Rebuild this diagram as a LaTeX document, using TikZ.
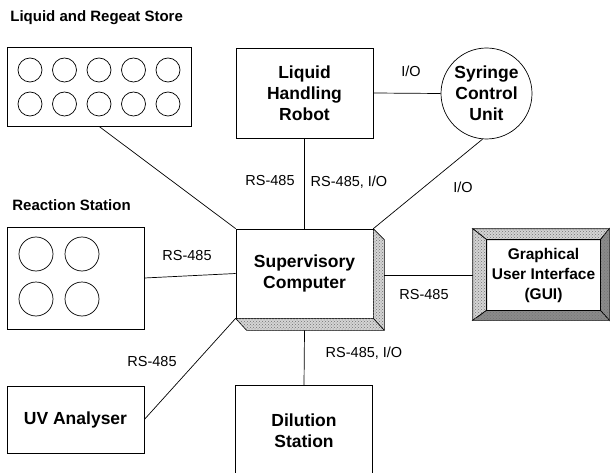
\documentclass[tikz,border=0pt]{standalone}
\usepackage{fontspec}
\setmainfont{Liberation Sans}
\usetikzlibrary{calc,patterns}
\definecolor{bevellight}{HTML}{d4d4d4}
\definecolor{beveldark}{HTML}{8a8a8a}

\begin{document}
\begin{tikzpicture}[x=1pt, y=-1pt, line width=0.7pt,
    unitbox/.style={draw, rectangle, inner sep=0pt, align=center,
      font=\bfseries\fontsize{17.5}{21}\selectfont},
    title/.style={anchor=west, inner sep=0pt, font=\bfseries\fontsize{15}{18}\selectfont},
    link/.style={inner sep=0pt, font=\fontsize{14.5}{17}\selectfont},
    bevel/.style={fill=#1, postaction={pattern=crosshatch dots, pattern color=black!55}}]
  \useasboundingbox (0,0) rectangle (610,473);

  % ---------------- stores and stations ----------------
  \node[title] (storetitle) at (10,18) {Liquid and Regeat Store};
  \node[unitbox, minimum width=184, minimum height=79] (store) at (99,86.5) {};
  \foreach \i in {0,...,4}
    \foreach \j in {0,1}
      \draw (30+34.5*\i, 70+34*\j) circle (12);

  \node[title] (reacttitle) at (12,205) {Reaction Station};
  \node[unitbox, minimum width=137, minimum height=102] (react) at (75.5,278) {};
  \foreach \i in {0,1}
    \foreach \j in {0,1}
      \draw (36+46*\i, 254+45*\j) circle (17);

  \node[unitbox, minimum width=137, minimum height=67] (uv) at (75.5,419.5) {UV Analyser};

  % open at the bottom edge of the page
  \node[unitbox, draw=none, minimum width=136, minimum height=90] (dil) at (304,431) {Dilution\\Station};
  \draw (dil.south west) -- (dil.north west) -- (dil.north east) -- (dil.south east);

  % ---------------- robot and syringe unit ----------------
  \node[unitbox, minimum width=137, minimum height=90] (robot) at (304.5,93) {Liquid\\Handling\\Robot};
  \node[unitbox, circle, minimum size=91] (syringe) at (486.5,93.5) {Syringe\\Control\\Unit};

  % ---------------- supervisory computer, with its bevel ----------------
  \node[unitbox, fill=white, minimum width=137, minimum height=89] (sup) at (304.5,273.5) {Supervisory\\Computer};
  \draw[bevel=bevellight] (sup.north east) -- ($(sup.north east)+(11,11)$)
    -- ($(sup.south east)+(11,12)$) -- ($(sup.south west)+(11,12)$)
    -- (sup.south west) -- (sup.south east) -- cycle;
  \draw (sup.south east) -- ($(sup.south east)+(11,12)$);
  \coordinate (supR) at ($(sup.east)+(11,0)$);
  \coordinate (supB) at ($(sup.south)+(0,12)$);

  % ---------------- GUI in a picture frame ----------------
  \node[unitbox, draw=none, minimum width=113, minimum height=70,
    font=\bfseries\fontsize{15.5}{20}\selectfont] (gui) at (543.5,275) {Graphical\\User Interface\\(GUI)};
  \coordinate (guiNW) at ($(gui.north west)+(-14,-11)$);
  \coordinate (guiNE) at ($(gui.north east)+(9,-11)$);
  \coordinate (guiSW) at ($(gui.south west)+(-14,10)$);
  \coordinate (guiSE) at ($(gui.south east)+(9,10)$);
  \draw[bevel=bevellight] (guiNW) -- (guiNE) -- (gui.north east) -- (gui.north west) -- cycle;
  \draw[bevel=bevellight] (guiNW) -- (gui.north west) -- (gui.south west) -- (guiSW) -- cycle;
  \draw[bevel=beveldark] (guiNE) -- (guiSE) -- (gui.south east) -- (gui.north east) -- cycle;
  \draw[bevel=beveldark] (guiSW) -- (guiSE) -- (gui.south east) -- (gui.south west) -- cycle;
  \draw (gui.north west) rectangle (gui.south east);
  \coordinate (guiL) at (guiNW |- gui.west);

  % ---------------- connections ----------------
  \draw (store.south) -- (sup.north west);
  \draw (robot.east) -- (syringe.west);
  \draw (robot.south) -- (sup.north);
  \draw (syringe.265) -- (sup.north east);
  \draw (react.east) -- (sup.west);
  \draw (supR |- guiL) -- (guiL);
  \draw (uv.east) -- (sup.south west);
  \draw (supB) -- (dil.north);

  \node[link] (lbstore) at (270,181) {RS-485};
  \node[link] (lbrobot) at (349,182) {RS-485, I/O};
  \node[link] (lbio) at (411,71) {I/O};
  \node[link] (lbsyr) at (463,187) {I/O};
  \node[link] (lbreact) at (187,256) {RS-485};
  \node[link] (lbgui) at (424,295) {RS-485};
  \node[link] (lbuv) at (152,362) {RS-485};
  \node[link] (lbdil) at (364,353) {RS-485, I/O};
\end{tikzpicture}
\end{document}
